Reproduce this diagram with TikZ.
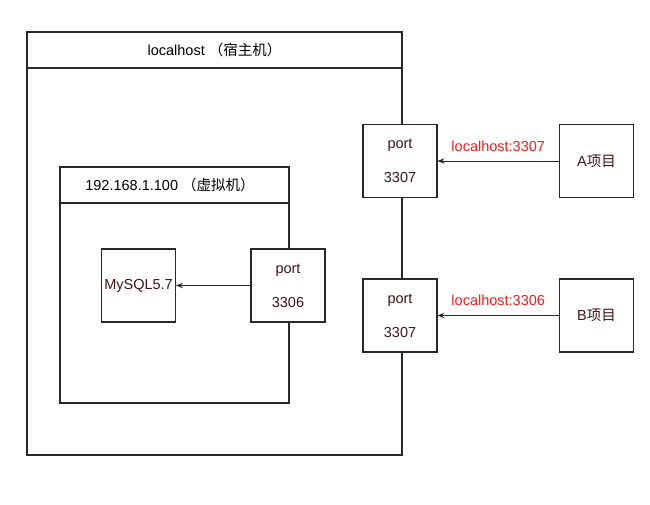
\documentclass[tikz,border=0pt]{standalone}
\usepackage{fontspec}
\setmainfont{Liberation Sans}
\newfontfamily\cjk{Noto Sans CJK SC}
\usetikzlibrary{arrows.meta}

\definecolor{boxtext}{RGB}{66,20,20}
\definecolor{linegray}{RGB}{40,40,40}
\definecolor{urlred}{RGB}{240,30,30}

\begin{document}
\begin{tikzpicture}[x=1pt, y=-1pt, font=\fontsize{14.5}{17}\selectfont,
  box/.style={draw=linegray, line width=1.1pt, fill=white, minimum width=74pt, minimum height=73pt, inner sep=0pt, text=boxtext},
  portbox/.style={box, align=center, font=\fontsize{14.5}{34}\selectfont},
  frame/.style={draw=linegray, line width=1.1pt},
  link/.style={draw=linegray, line width=1pt, -{Stealth[length=7pt, width=5.5pt, inset=2.5pt]}},
  url/.style={text=urlred, above, yshift=6pt}]

\useasboundingbox (0,0) rectangle (650,504);

% Host (localhost)
\draw[frame] (27,32) rectangle (402,455);
\draw[frame] (27,68) -- (402,68);
\node (hosttitle) at (214.5,50) {localhost {\cjk （宿主机）}};

% Virtual machine
\draw[frame] (60,167) rectangle (289,403);
\draw[frame] (60,203) -- (289,203);
\node (vmtitle) at (170,185) {192.168.1.100 {\cjk （虚拟机）}};

% MySQL and port 3306
\node[box] (mysql) at (138.5,285.5) {MySQL5.7};
\node[portbox] (port3306) at (288,285.5) {port\\3306};

% Ports on the host
\node[portbox] (portA) at (400,161) {port\\3307};
\node[portbox] (portB) at (400,315.5) {port\\3307};

% Projects
\node[box] (projA) at (596.5,161) {A{\cjk 项目}};
\node[box] (projB) at (596.5,315.5) {B{\cjk 项目}};

% Connections
\draw[link] (port3306) -- (mysql);
\draw[link] (projA) -- node[url] {localhost:3307} (portA);
\draw[link] (projB) -- node[url] {localhost:3306} (portB);

\end{tikzpicture}
\end{document}
